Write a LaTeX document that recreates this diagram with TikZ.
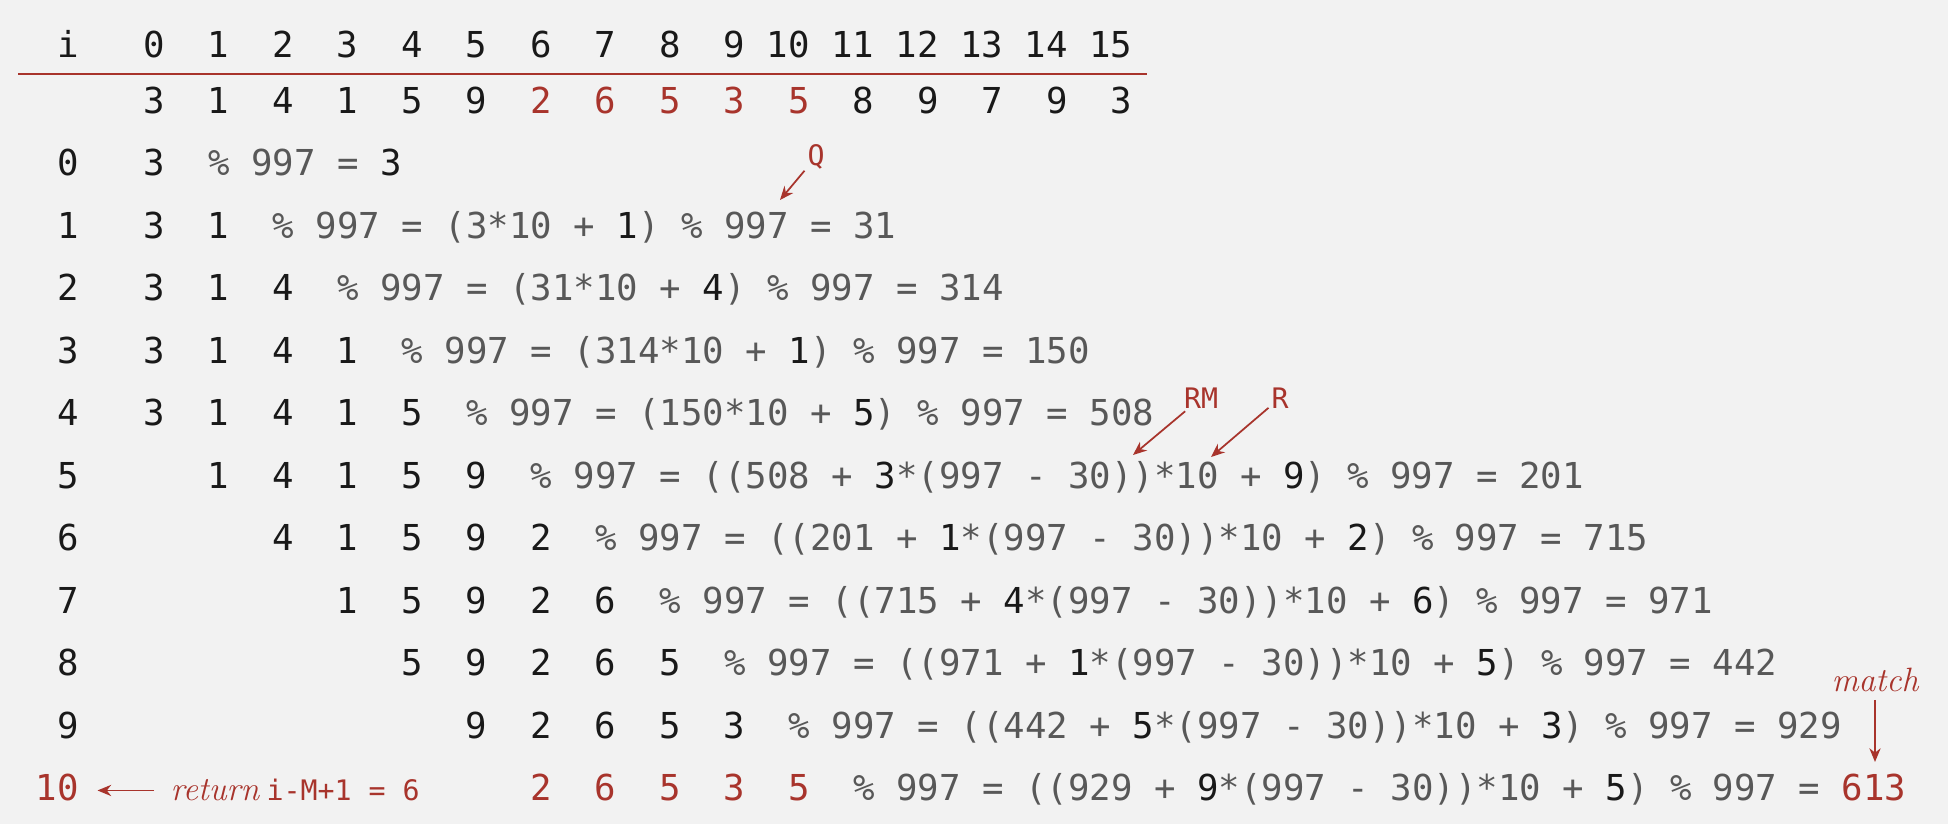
\documentclass[tikz,border=0pt]{standalone}
\usepackage{fontspec}
\setmonofont{DejaVu Sans Mono}
\usetikzlibrary{arrows.meta}

\definecolor{bg}{RGB}{242,242,242}
\definecolor{ink}{RGB}{25,25,25}
\definecolor{hgray}{RGB}{88,88,88}
\definecolor{hred}{RGB}{168,52,44}

\newcommand{\bigtt}{\ttfamily\fontsize{14.28}{17}\selectfont}
\newcommand{\smalltt}{\ttfamily\fontsize{11.3}{13}\selectfont}
\newcommand{\itfont}{\rmfamily\itshape\fontsize{13.5}{15}\selectfont}
\newcommand{\dg}[1]{\textcolor{ink}{#1}}
\def\pivals{{3,1,4,1,5,9,2,6,5,3,5,8,9,7,9,3}}

\begin{document}
\begin{tikzpicture}[
  x=0.4pt, y=-0.4pt,
  font=\bigtt,
  >={Stealth[length=5.5pt, width=4.5pt]},
  cell/.style={anchor=base, inner sep=0pt, text=ink},
  hit/.style={cell, text=hred},
  calc/.style={anchor=base west, inner sep=0pt, text=hgray},
  lbl/.style={inner sep=1pt, text=hred, font=\smalltt},
  ptr/.style={->, draw=hred, line width=0.7pt},
]
\fill[bg] (0,0) rectangle (1948,824);
\useasboundingbox (0,0) rectangle (1948,824);
% header: index i
\node[cell] (hi) at (68,58) {i};
\foreach \k in {0,...,9} \node[cell] (h\k) at (154+64.5*\k,58) {\k};
\foreach \k in {10,...,15} \node[cell] (h\k) at (143.25+64.5*\k,58) {\k};
\draw[hred, line width=0.7pt] (18,74) -- (1147,74);
% text digits
\foreach \v [count=\k from 0] in {3,1,4,1,5,9,2,6,5,3,5,8,9,7,9,3} {
  \def\sty{cell}
  \ifnum\k>5 \ifnum\k<11 \def\sty{hit}\fi\fi
  \node[\sty] (t\k) at (154+64.5*\k,114) {\v};
}
% window of M digits per row
\foreach \r in {0,...,9} {
  \node[cell] (r\r) at (68,176+62.5*\r) {\r};
  \pgfmathtruncatemacro\lo{max(0,\r-4)}
  \foreach \k in {\lo,...,\r} {
    \pgfmathtruncatemacro\d{\pivals[\k]}
    \node[cell] (d\r-\k) at (154+64.5*\k,176+62.5*\r) {\d};
  }
}
\node[hit] (r10) at (57.25,801) {10};
\foreach \k in {6,...,10} {
  \pgfmathtruncatemacro\d{\pivals[\k]}
  \node[hit] (d10-\k) at (154+64.5*\k,801) {\d};
}
% hash computations
\node[calc] (f0)  at (207.75,176) {\% 997 = \dg{3}};
\node[calc] (f1)  at (272.25,238.5) {\% 997 = (3*10 + \dg{1}) \% 997 = 31};
\node[calc] (f2)  at (336.75,301) {\% 997 = (31*10 + \dg{4}) \% 997 = 314};
\node[calc] (f3)  at (401.25,363.5) {\% 997 = (314*10 + \dg{1}) \% 997 = 150};
\node[calc] (f4)  at (465.75,426) {\% 997 = (150*10 + \dg{5}) \% 997 = 508};
\node[calc] (f5)  at (530.25,488.5) {\% 997 = ((508 + \dg{3}*(997 - 30))*10 + \dg{9}) \% 997 = 201};
\node[calc] (f6)  at (594.75,551) {\% 997 = ((201 + \dg{1}*(997 - 30))*10 + \dg{2}) \% 997 = 715};
\node[calc] (f7)  at (659.25,613.5) {\% 997 = ((715 + \dg{4}*(997 - 30))*10 + \dg{6}) \% 997 = 971};
\node[calc] (f8)  at (723.75,676) {\% 997 = ((971 + \dg{1}*(997 - 30))*10 + \dg{5}) \% 997 = 442};
\node[calc] (f9)  at (788.25,738.5) {\% 997 = ((442 + \dg{5}*(997 - 30))*10 + \dg{3}) \% 997 = 929};
\node[calc] (f10) at (852.75,801) {\% 997 = ((929 + \dg{9}*(997 - 30))*10 + \dg{5}) \% 997 = \textcolor{hred}{613}};
% labels
\node[lbl] (q) at (816,157) {Q};
\coordinate (qtip) at (780,200);
\draw[ptr] (q) -- (qtip);
\node[lbl] (rm) at (1201,398) {RM};
\coordinate (rmtip) at (1133,455);
\draw[ptr] (rm) -- (rmtip);
\node[lbl] (rr) at (1280,398) {R};
\coordinate (rtip) at (1211,457);
\draw[ptr] (rr) -- (rtip);
\node[lbl, font=\itfont, inner sep=3pt] (match) at (1875,680) {match};
\coordinate (mtip) at (1875,762);
\draw[ptr] (match) -- (mtip);
\node[anchor=base west, inner sep=0pt, text=hred] (ret) at (170,801) {{\itfont return}\hspace{3pt}{\smalltt i-M+1 = 6}};
\draw[ptr, shorten <=6.4pt, shorten >=7.3pt] (ret.west) -- (ret.west -| r10.east);
\end{tikzpicture}
\end{document}
